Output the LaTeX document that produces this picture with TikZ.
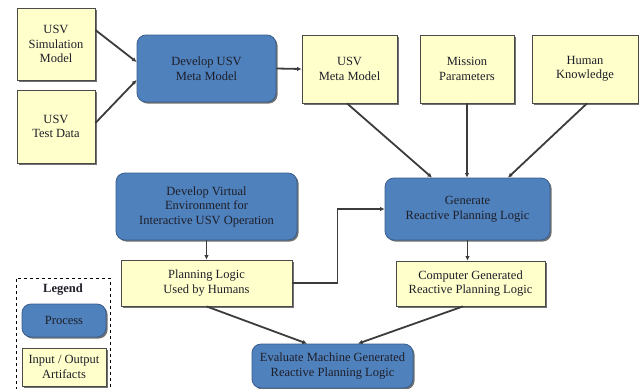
\documentclass[tikz,border=0pt]{standalone}
\usepackage{fontspec}
\setmainfont{Liberation Serif}
\usetikzlibrary{arrows.meta,shadows,calc}
\definecolor{procblue}{HTML}{4F81BD}
\definecolor{procedge}{HTML}{3A5E8C}
\definecolor{artyellow}{HTML}{FFFFCC}
\definecolor{artedge}{HTML}{4A4A4A}
\definecolor{linkgray}{HTML}{3C3C3C}
\definecolor{txt}{HTML}{1E1E28}
\tikzset{
  base/.style={align=center, inner sep=1pt, text=txt,
    font=\fontsize{12.5}{14.5}\selectfont,
    drop shadow={shadow xshift=1.6pt, shadow yshift=-1.6pt, fill=black!65, opacity=0.85}},
  artifact/.style={base, draw=artedge, line width=0.8pt, fill=artyellow},
  process/.style={base, draw=procedge, line width=0.8pt, fill=procblue, rounded corners=9pt},
  link/.style={draw=linkgray, line width=1.8pt, -{Latex[length=4.5pt,width=4.5pt]}},
}
\begin{document}
\begin{tikzpicture}[x=1pt,y=-1pt]
\useasboundingbox (0,0) rectangle (639,388);
% artifacts
\node[artifact, minimum width=78, minimum height=72] (sim) at (56,44) {USV\\Simulation\\Model};
\node[artifact, minimum width=78, minimum height=73] (test) at (56,126.5) {USV\\Test Data};
\node[artifact, minimum width=95, minimum height=68] (meta) at (349.5,69) {USV\\Meta Model};
\node[artifact, minimum width=94, minimum height=68] (mission) at (467,69) {Mission\\Parameters};
\node[artifact, minimum width=106, minimum height=68] (human) at (585,69) {Human\\Knowledge};
\node[artifact, minimum width=149, minimum height=45] (comp) at (470.5,283.5) {Computer Generated\\Reactive Planning Logic};
\node[artifact, minimum width=171, minimum height=46] (plh) at (206.5,283) {Planning Logic\\Used by Humans};
% processes
\node[process, minimum width=139, minimum height=67] (dmeta) at (206.5,68.5) {Develop USV\\Meta Model};
\node[process, minimum width=165, minimum height=62] (gen) at (467.5,209) {Generate\\Reactive Planning Logic};
\node[process, minimum width=181, minimum height=67] (dve) at (206.5,206.5) {Develop Virtual\\Environment for\\Interactive USV Operation};
\node[process, minimum width=161, minimum height=44] (eval) at (332.5,366) {Evaluate Machine Generated\\Reactive Planning Logic};
% legend
\node[draw=black, dashed, line width=1pt, fill=white, minimum width=94, minimum height=111] (legend) at (63,333.5) {};
\node[font=\bfseries\fontsize{12.5}{14.5}\selectfont, text=txt, inner sep=0pt] (legtitle) at (63,290) {Legend};
\node[process, minimum width=84, minimum height=33] (lproc) at (64,320.5) {Process};
\node[artifact, minimum width=84, minimum height=38, rounded corners=0pt] (lio) at (64,367) {Input / Output\\Artifacts};
% connectors
\draw[link] ([yshift=14]sim.east) -- ([yshift=6.5]dmeta.west);
\draw[link] ([yshift=3.5]test.east) -- ([yshift=-11.5]dmeta.west);
\draw[link] (dmeta.east) -- (meta.west);
\draw[link] ([xshift=-2.5]meta.south) -- ([xshift=-35.5]gen.north);
\draw[link] (mission.south) -- (mission.south |- gen.north);
\draw[link] ([xshift=2]human.south) -- ([xshift=40.5]gen.north);
\draw[link] (dve.south) -- (plh.north);
\draw[link] (plh.east) -- ++(45,0) |- (gen.west);
\draw[link] (gen.south) -- (gen.south |- comp.north);
\draw[link] (plh.south) -- ([xshift=-25.5]eval.north);
\draw[link] ([xshift=-7.5]comp.south) -- ([xshift=25.5]eval.north);
\end{tikzpicture}
\end{document}
